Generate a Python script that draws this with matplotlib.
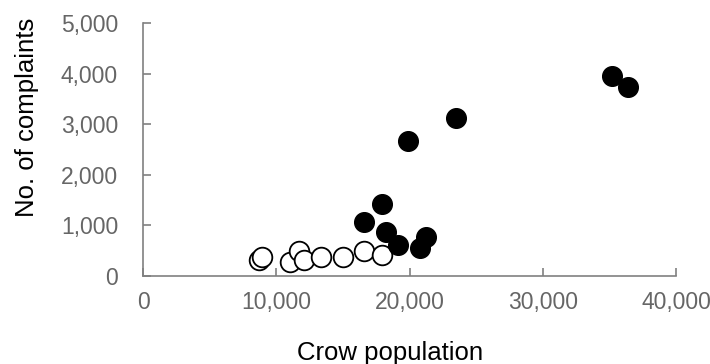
import matplotlib.pyplot as plt
from matplotlib.ticker import FuncFormatter

plt.rcParams['font.family'] = ['Liberation Sans', 'DejaVu Sans']

# filled circles
filled_x = [35200, 36400, 23450, 19850, 17950, 16600, 18250, 19150, 21250, 20800]
filled_y = [3960, 3730, 3120, 2660, 1420, 1060, 870, 620, 770, 550]

# open circles
open_x = [8700, 8900, 11050, 11700, 12050, 13350, 15000, 16600, 17950]
open_y = [310, 380, 270, 490, 320, 380, 380, 490, 410]

fig = plt.figure(figsize=(7.1, 3.64), dpi=100)
ax = fig.add_axes([0.2015, 0.242, 0.751, 0.695])

ax.scatter(open_x, open_y, s=200, facecolors='white', edgecolors='black', linewidths=1.3, zorder=3, clip_on=False)
ax.scatter(filled_x, filled_y, s=200, facecolors='black', edgecolors='black', linewidths=1.0, zorder=4, clip_on=False)

ax.set_xlim(0, 40000)
ax.set_ylim(0, 5000)
ax.set_xticks([0, 10000, 20000, 30000, 40000])
ax.set_yticks([0, 1000, 2000, 3000, 4000, 5000])
fmt = FuncFormatter(lambda v, p: '{:,.0f}'.format(v))
ax.xaxis.set_major_formatter(fmt)
ax.yaxis.set_major_formatter(fmt)

for s in ['top', 'right']:
    ax.spines[s].set_visible(False)
for s in ['left', 'bottom']:
    ax.spines[s].set_color('#808080')
    ax.spines[s].set_linewidth(1.2)

ax.tick_params(direction='in', length=6, width=1.2, color='#808080',
               labelcolor='#666666', labelsize=16.5)
ax.tick_params(axis='x', pad=11)
ax.tick_params(axis='y', pad=18)

ax.set_xlabel('Crow population', fontsize=18.5, labelpad=19, x=0.463)
ax.set_ylabel('No. of complaints', fontsize=18.5, labelpad=16, y=0.626)

fig.savefig('out.png', dpi=100)
